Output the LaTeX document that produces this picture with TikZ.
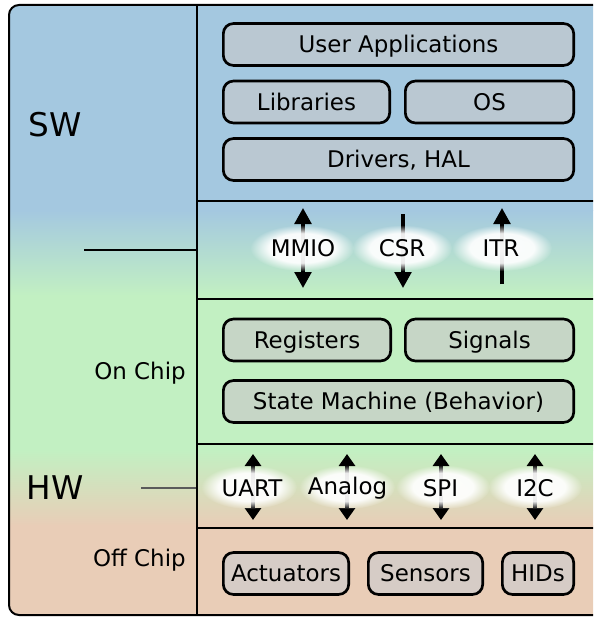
\documentclass[tikz,border=0pt]{standalone}
\usepackage{fontspec}
\setmainfont{DejaVu Sans}
\usetikzlibrary{arrows.meta,fadings}
\definecolor{swblue}{RGB}{164,200,224}
\definecolor{hwgreen}{RGB}{194,240,194}
\definecolor{offpeach}{RGB}{233,205,183}
\definecolor{swbox}{RGB}{186,200,210}
\definecolor{hwbox}{RGB}{198,214,198}
\definecolor{offbox}{RGB}{214,204,198}
\definecolor{tickgrey}{RGB}{90,90,90}
\pgfdeclareradialshading{glowshading}{\pgfpointorigin}{color(0bp)=(pgftransparent!4);color(16bp)=(pgftransparent!8);color(25bp)=(pgftransparent!100);color(50bp)=(pgftransparent!100)}
\pgfdeclarefading{glowfade}{\pgfuseshading{glowshading}}
\tikzset{
  lbl/.style={inner sep=0pt, text height=12.4pt, text depth=0pt, font=\fontsize{17.2}{20}\selectfont},
  big/.style={inner sep=0pt, text height=17.9pt, text depth=0pt, font=\fontsize{24.5}{28}\selectfont},
  stackbox/.style={lbl, draw=black, line width=2pt, rounded corners=7.5pt, minimum height=31.4pt},
  swb/.style={stackbox, fill=swbox},
  hwb/.style={stackbox, fill=hwbox},
  offb/.style={stackbox, fill=offbox},
  sep/.style={line width=1pt, black},
  uparr/.style={line width=2.6pt, -{Triangle[width=12.5pt,length=12pt]}},
  loarr/.style={line width=2.6pt, {Triangle[width=12pt,length=9pt]}-{Triangle[width=12pt,length=9pt]}},
  glowfill/.style={fill=white, path fading=glowfade},
}
\begin{document}
\begin{tikzpicture}[x=0.75pt,y=-0.75pt]
\useasboundingbox (0,0) rectangle (593,617);
\clip (0,0) rectangle (593,617);
% background
\begin{scope}
\clip[rounded corners=7.5pt] (9,5) rectangle (620,615);
\fill[swblue] (0,0) rectangle (620,211);
\shade[top color=swblue,bottom color=hwgreen] (0,210) rectangle (620,296);
\fill[hwgreen] (0,295) rectangle (620,451);
\shade[top color=hwgreen,bottom color=offpeach] (0,450) rectangle (620,526);
\fill[offpeach] (0,525) rectangle (620,620);
\end{scope}
% separators
\draw[sep] (197,201) -- (600,201);
\draw[sep] (197,299) -- (600,299);
\draw[sep] (197,444) -- (600,444);
\draw[sep] (197,528) -- (600,528);
\draw[line width=1pt] (84,250) -- (197,250);
\draw[line width=1.1pt, tickgrey] (141,488) -- (197,488);
% software boxes
\node[swb, minimum width=262.75pt] (ua) at (398.5,44.5) {User Applications};
\node[swb, minimum width=124.75pt] (lib) at (306.5,102) {Libraries};
\node[swb, minimum width=126.25pt] (os) at (489.5,102) {OS};
\node[swb, minimum width=262.75pt] (drv) at (398.5,159.5) {Drivers, HAL};
% on chip boxes
\node[hwb, minimum width=125.5pt] (reg) at (307,340) {Registers};
\node[hwb, minimum width=126.25pt] (sig) at (489.5,340) {Signals};
\node[hwb, minimum width=262.75pt] (sm) at (398.5,401.5) {State Machine (Behavior)};
% off chip boxes
\node[offb, minimum width=94pt] (act) at (286,573.5) {Actuators};
\node[offb, minimum width=85.75pt] (sen) at (425.5,573.5) {Sensors};
\node[offb, minimum width=53.5pt] (hid) at (538,573.5) {HIDs};
% arrow end points
\coordinate (mmioT) at (303,208); \coordinate (mmioB) at (303,288);
\coordinate (csrT) at (403,214);  \coordinate (csrB) at (403,288);
\coordinate (itrT) at (502,208);  \coordinate (itrB) at (502,284);
\coordinate (uartT) at (253,454); \coordinate (uartB) at (253,520);
\coordinate (anaT) at (347,454);  \coordinate (anaB) at (347,520);
\coordinate (spiT) at (441,454);  \coordinate (spiB) at (441,520);
\coordinate (iicT) at (535,454);  \coordinate (iicB) at (535,520);
\draw[uparr, {Triangle[width=12.5pt,length=12pt]}-{Triangle[width=12.5pt,length=12pt]}] (mmioT) -- (mmioB);
\draw[uparr] (csrT) -- (csrB);
\draw[uparr] (itrB) -- (itrT);
\draw[loarr] (uartT) -- (uartB);
\draw[loarr] (anaT) -- (anaB);
\draw[loarr] (spiT) -- (spiB);
\draw[loarr] (iicT) -- (iicB);
% glows
\fill[glowfill] (302,248) ellipse [x radius=52, y radius=23];
\fill[glowfill] (402,248) ellipse [x radius=50, y radius=23];
\fill[glowfill] (502,248) ellipse [x radius=50, y radius=23];
\fill[glowfill] (249,487) ellipse [x radius=48, y radius=22];
\fill[glowfill] (347,487) ellipse [x radius=48, y radius=22];
\fill[glowfill] (443,487) ellipse [x radius=47, y radius=22];
\fill[glowfill] (535,487) ellipse [x radius=47, y radius=22];
% interface labels
\node[lbl] (mmio) at (303,248) {MMIO};
\node[lbl] (csr) at (402,248) {CSR};
\node[lbl] (itr) at (501,248) {ITR};
\node[lbl] (uart) at (252,488) {UART};
\node[lbl] (analog) at (347.5,486) {Analog};
\node[lbl] (spi) at (440.5,488) {SPI};
\node[lbl] (iic) at (535,488) {I2C};
% side labels
\node[big] (sw) at (55.5,124.5) {SW};
\node[big] (hw) at (55,488) {HW};
\node[lbl, anchor=east] (onchip) at (186,371) {On Chip};
\node[lbl, anchor=east] (offchip) at (186,558.5) {Off Chip};
% frame
\draw[line width=1.5pt, rounded corners=7.5pt] (9,5) rectangle (620,615);
\draw[line width=1.6pt] (197,5) -- (197,615);
\end{tikzpicture}
\end{document}
